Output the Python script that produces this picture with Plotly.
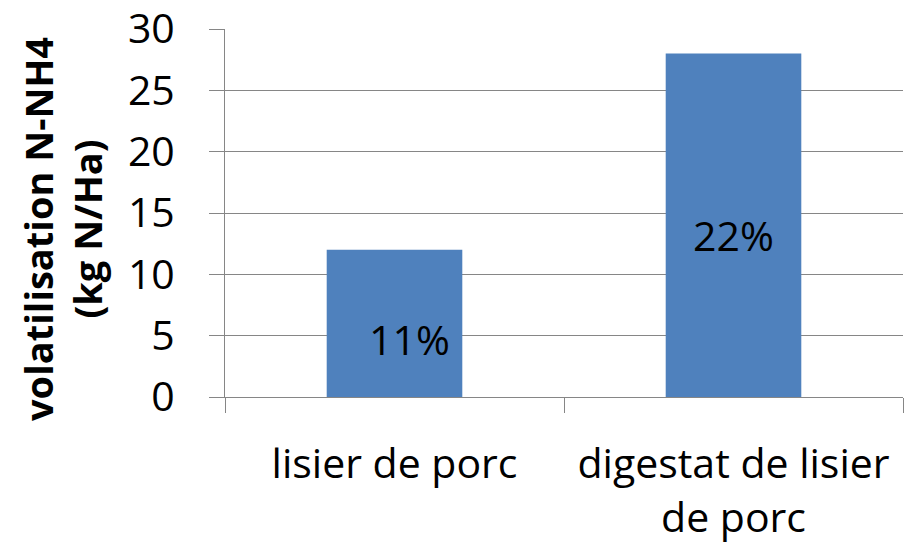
import plotly.graph_objects as go

categories = ["lisier de porc", "digestat de lisier<br>de porc"]
values = [12, 28]
label_texts = ["11%", "22%"]
label_y = [4.7, 13.2]
label_xshift = [15, 0]
y_title = "volatilisation N-NH4<br>(kg N/Ha)"
y_ticks = [0, 5, 10, 15, 20, 25, 30]

FONT = "Open Sans"
GRAY = "#868686"

fig = go.Figure(go.Bar(x=categories, y=values, marker=dict(color="#4F81BD", line=dict(width=0)),
                       hoverinfo="skip"))

for c, t, yy, xs in zip(categories, label_texts, label_y, label_xshift):
    fig.add_annotation(x=c, y=yy, text=t, showarrow=False, xshift=xs,
                       font=dict(family=FONT, size=41, color="black"))

# y-axis title (placed as rotated text to match the reference position)
fig.add_annotation(xref="paper", yref="paper", x=0, y=0.5, xshift=-163, yshift=-16,
                   text="<b>" + y_title + "</b>", textangle=-90, showarrow=False,
                   xanchor="center", yanchor="middle",
                   font=dict(family=FONT, size=38, color="black"))

fig.update_layout(
    width=904, height=542,
    margin=dict(l=225, r=1, t=29, b=145),
    paper_bgcolor="white", plot_bgcolor="white",
    bargap=0.6, showlegend=False,
    font=dict(family=FONT, size=41, color="black"),
)
fig.update_xaxes(
    automargin=False, ticklabeloverflow="allow",
    showline=True, linecolor=GRAY, linewidth=1,
    ticks="outside", tickson="boundaries", ticklen=15, tickcolor=GRAY, tickwidth=1,
    ticklabelstandoff=31,
    showgrid=False, tickfont=dict(family=FONT, size=41, color="black"),
)
fig.update_yaxes(
    automargin=False, ticklabeloverflow="allow",
    range=[0, 30], tickvals=y_ticks, showline=True, linecolor=GRAY, linewidth=1,
    ticks="outside", ticklen=15, tickcolor=GRAY, tickwidth=1,
    ticklabelstandoff=26,
    showgrid=True, gridcolor=GRAY, gridwidth=1, zeroline=False,
    tickfont=dict(family=FONT, size=41, color="black"),
)

fig.write_html("out.html", config={"displayModeBar": False},
               post_script="document.body.style.margin='0';document.body.style.overflow='hidden';")
